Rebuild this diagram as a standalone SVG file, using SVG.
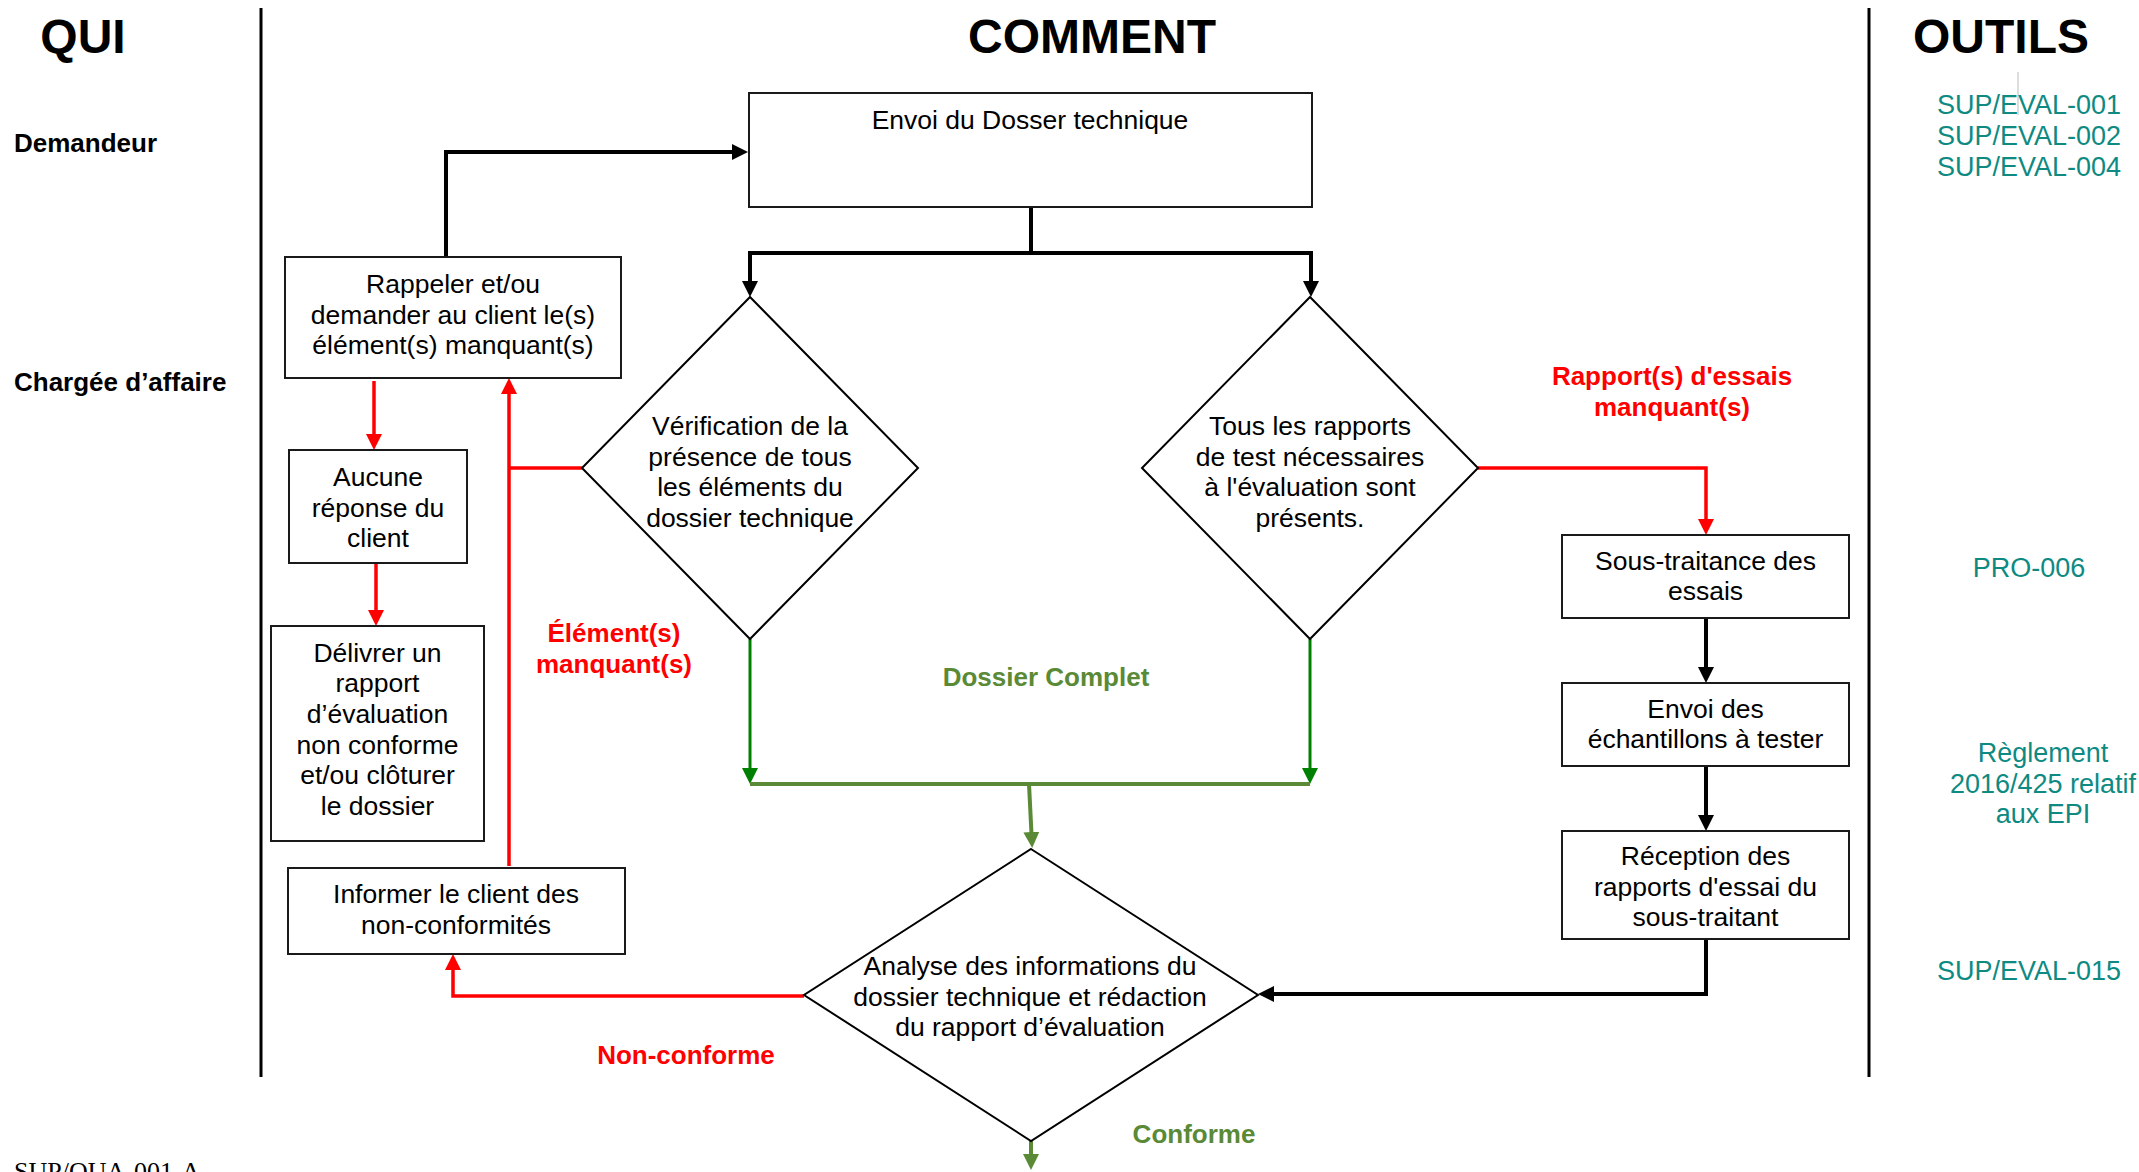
<svg xmlns="http://www.w3.org/2000/svg" width="2139" height="1172" viewBox="0 0 2139 1172">
<style>
.bg{fill:#ffffff}
.title{font-family:"Liberation Sans",Arial,sans-serif;font-weight:bold;font-size:48px;fill:#000;text-anchor:middle}
.role{font-family:"Liberation Sans",Arial,sans-serif;font-weight:bold;font-size:26px;fill:#000}
.tool{font-family:"Liberation Sans",Arial,sans-serif;font-size:27px;fill:#0E8A82}
.tc{text-anchor:middle}
.box{fill:#fff;stroke:#1a1a1a;stroke-width:2}
.dia{fill:#fff;stroke:#000;stroke-width:2}
.nt{font-family:"Liberation Sans",Arial,sans-serif;font-size:26.5px;fill:#000;text-anchor:middle}
.lbl{font-family:"Liberation Sans",Arial,sans-serif;font-weight:bold;font-size:26px;text-anchor:middle}
.red{fill:#FF0000}
.olive{fill:#5A8A35}
.sep{stroke:#000;stroke-width:3}
.cb{fill:none;stroke:#000;stroke-width:4}
.cr{fill:none;stroke:#FF0000;stroke-width:3.5}
.cg{fill:none;stroke:#008000;stroke-width:3}
.co{fill:none;stroke:#5A8A35;stroke-width:4}
</style>
<defs>
<marker id="ab" viewBox="0 0 16 16" refX="12" refY="8" markerWidth="16" markerHeight="16" markerUnits="userSpaceOnUse" orient="auto"><path d="M0,0 L16,8 L0,16 z" fill="#000"/></marker>
<marker id="ar" viewBox="0 0 16 16" refX="12" refY="8" markerWidth="16" markerHeight="16" markerUnits="userSpaceOnUse" orient="auto"><path d="M0,0 L16,8 L0,16 z" fill="#FF0000"/></marker>
<marker id="ag" viewBox="0 0 16 16" refX="12" refY="8" markerWidth="16" markerHeight="16" markerUnits="userSpaceOnUse" orient="auto"><path d="M0,0 L16,8 L0,16 z" fill="#008000"/></marker>
<marker id="ao" viewBox="0 0 16 16" refX="12" refY="8" markerWidth="16" markerHeight="16" markerUnits="userSpaceOnUse" orient="auto"><path d="M0,0 L16,8 L0,16 z" fill="#5A8A35"/></marker>
</defs>
<rect class="bg" x="0" y="0" width="2139" height="1172"/>

<g id="lanes">
<line class="sep" x1="261" y1="8" x2="261" y2="1077"/>
<line class="sep" x1="1869" y1="8" x2="1869" y2="1077"/>
<text class="title" x="83" y="53">QUI</text>
<text class="title" x="1092" y="53">COMMENT</text>
<text class="title" x="2001" y="53">OUTILS</text>
<text class="role" x="14" y="152">Demandeur</text>
<text class="role" x="14" y="391">Chargée d’affaire</text>
</g>

<g id="tools">
<line x1="2018" y1="72" x2="2018" y2="115" stroke="#bbbbbb" stroke-width="1"/>
<text class="tool" x="1937" y="114">SUP/EVAL-001</text>
<text class="tool" x="1937" y="145">SUP/EVAL-002</text>
<text class="tool" x="1937" y="176">SUP/EVAL-004</text>
<text class="tool tc" x="2029" y="577">PRO-006</text>
<text class="tool tc" x="2043" y="762">Règlement</text>
<text class="tool tc" x="2043" y="793">2016/425 relatif</text>
<text class="tool tc" x="2043" y="823">aux EPI</text>
<text class="tool" x="1937" y="980">SUP/EVAL-015</text>
</g>

<g id="connectors">
<path class="cb" d="M446,256 V152 H744" marker-end="url(#ab)"/>
<path class="cb" d="M1031,207 V253"/>
<path class="cb" d="M1031,253 H750 V293" marker-end="url(#ab)"/>
<path class="cb" d="M1031,253 H1311 V293" marker-end="url(#ab)"/>
<path class="cb" d="M1706,618 V679" marker-end="url(#ab)"/>
<path class="cb" d="M1706,766 V827" marker-end="url(#ab)"/>
<path class="cb" d="M1706,939 V994 H1262" marker-end="url(#ab)"/>
<path class="cr" d="M582,468 H509"/>
<path class="cr" d="M509,866 V382" marker-end="url(#ar)"/>
<path class="cr" d="M374,381 V446" marker-end="url(#ar)"/>
<path class="cr" d="M376,563 V622" marker-end="url(#ar)"/>
<path class="cr" d="M1478,468 H1706 V531" marker-end="url(#ar)"/>
<path class="cr" d="M804,996 H453 V958" marker-end="url(#ar)"/>
<path class="cg" d="M750,639 V780" marker-end="url(#ag)"/>
<path class="cg" d="M1310,639 V780" marker-end="url(#ag)"/>
<path class="co" d="M750,784 H1310"/>
<path class="co" d="M1029,784 L1032,844" marker-end="url(#ao)"/>
<path class="co" d="M1031,1141 V1166" marker-end="url(#ao)"/>
<text class="lbl red" x="614" y="642">Élément(s)</text>
<text class="lbl red" x="614" y="673">manquant(s)</text>
<text class="lbl red" x="1672" y="385">Rapport(s) d'essais</text>
<text class="lbl red" x="1672" y="416">manquant(s)</text>
<text class="lbl olive" x="1046" y="686">Dossier Complet</text>
<text class="lbl red" x="686" y="1064">Non-conforme</text>
<text class="lbl olive" x="1194" y="1143">Conforme</text>
</g>

<g id="n-envoi-dossier">
<rect class="box" x="749" y="93" width="563" height="114"/>
<text class="nt" x="1030" y="129">Envoi du Dosser technique</text>
</g>

<g id="n-rappeler">
<rect class="box" x="285" y="257" width="336" height="121"/>
<text class="nt" x="453" y="293">Rappeler et/ou</text>
<text class="nt" x="453" y="324">demander au client le(s)</text>
<text class="nt" x="453" y="354">élément(s) manquant(s)</text>
</g>

<g id="n-aucune">
<rect class="box" x="289" y="450" width="178" height="113"/>
<text class="nt" x="378" y="486">Aucune</text>
<text class="nt" x="378" y="517">réponse du</text>
<text class="nt" x="378" y="547">client</text>
</g>

<g id="n-delivrer">
<rect class="box" x="271" y="626" width="213" height="215"/>
<text class="nt" x="377.5" y="662">Délivrer un</text>
<text class="nt" x="377.5" y="692">rapport</text>
<text class="nt" x="377.5" y="723">d’évaluation</text>
<text class="nt" x="377.5" y="754">non conforme</text>
<text class="nt" x="377.5" y="784">et/ou clôturer</text>
<text class="nt" x="377.5" y="815">le dossier</text>
</g>

<g id="n-informer">
<rect class="box" x="288" y="868" width="337" height="86"/>
<text class="nt" x="456" y="903">Informer le client des</text>
<text class="nt" x="456" y="934">non-conformités</text>
</g>

<g id="n-verification">
<polygon class="dia" points="750,297 918,468 750,639 582,468"/>
<text class="nt" x="750" y="435">Vérification de la</text>
<text class="nt" x="750" y="466">présence de tous</text>
<text class="nt" x="750" y="496">les éléments du</text>
<text class="nt" x="750" y="527">dossier technique</text>
</g>

<g id="n-tous-rapports">
<polygon class="dia" points="1310,297 1478,468 1310,639 1142,468"/>
<text class="nt" x="1310" y="435">Tous les rapports</text>
<text class="nt" x="1310" y="466">de test nécessaires</text>
<text class="nt" x="1310" y="496">à l'évaluation sont</text>
<text class="nt" x="1310" y="527">présents.</text>
</g>

<g id="n-sous-traitance">
<rect class="box" x="1562" y="535" width="287" height="83"/>
<text class="nt" x="1705.5" y="570">Sous-traitance des</text>
<text class="nt" x="1705.5" y="600">essais</text>
</g>

<g id="n-envoi-echantillons">
<rect class="box" x="1562" y="683" width="287" height="83"/>
<text class="nt" x="1705.5" y="718">Envoi des</text>
<text class="nt" x="1705.5" y="748">échantillons à tester</text>
</g>

<g id="n-reception">
<rect class="box" x="1562" y="831" width="287" height="108"/>
<text class="nt" x="1705.5" y="865">Réception des</text>
<text class="nt" x="1705.5" y="896">rapports d'essai du</text>
<text class="nt" x="1705.5" y="926">sous-traitant</text>
</g>

<g id="n-analyse">
<polygon class="dia" points="1031,849 1258,995 1031,1141 804,995"/>
<text class="nt" x="1030" y="975">Analyse des informations du</text>
<text class="nt" x="1030" y="1006">dossier technique et rédaction</text>
<text class="nt" x="1030" y="1036">du rapport d’évaluation</text>
</g>

<g id="footer">
<text x="14" y="1180" font-family="Liberation Serif, Times New Roman, serif" font-size="26px" fill="#000">SUP/QUA-001-A</text>
</g>
</svg>
